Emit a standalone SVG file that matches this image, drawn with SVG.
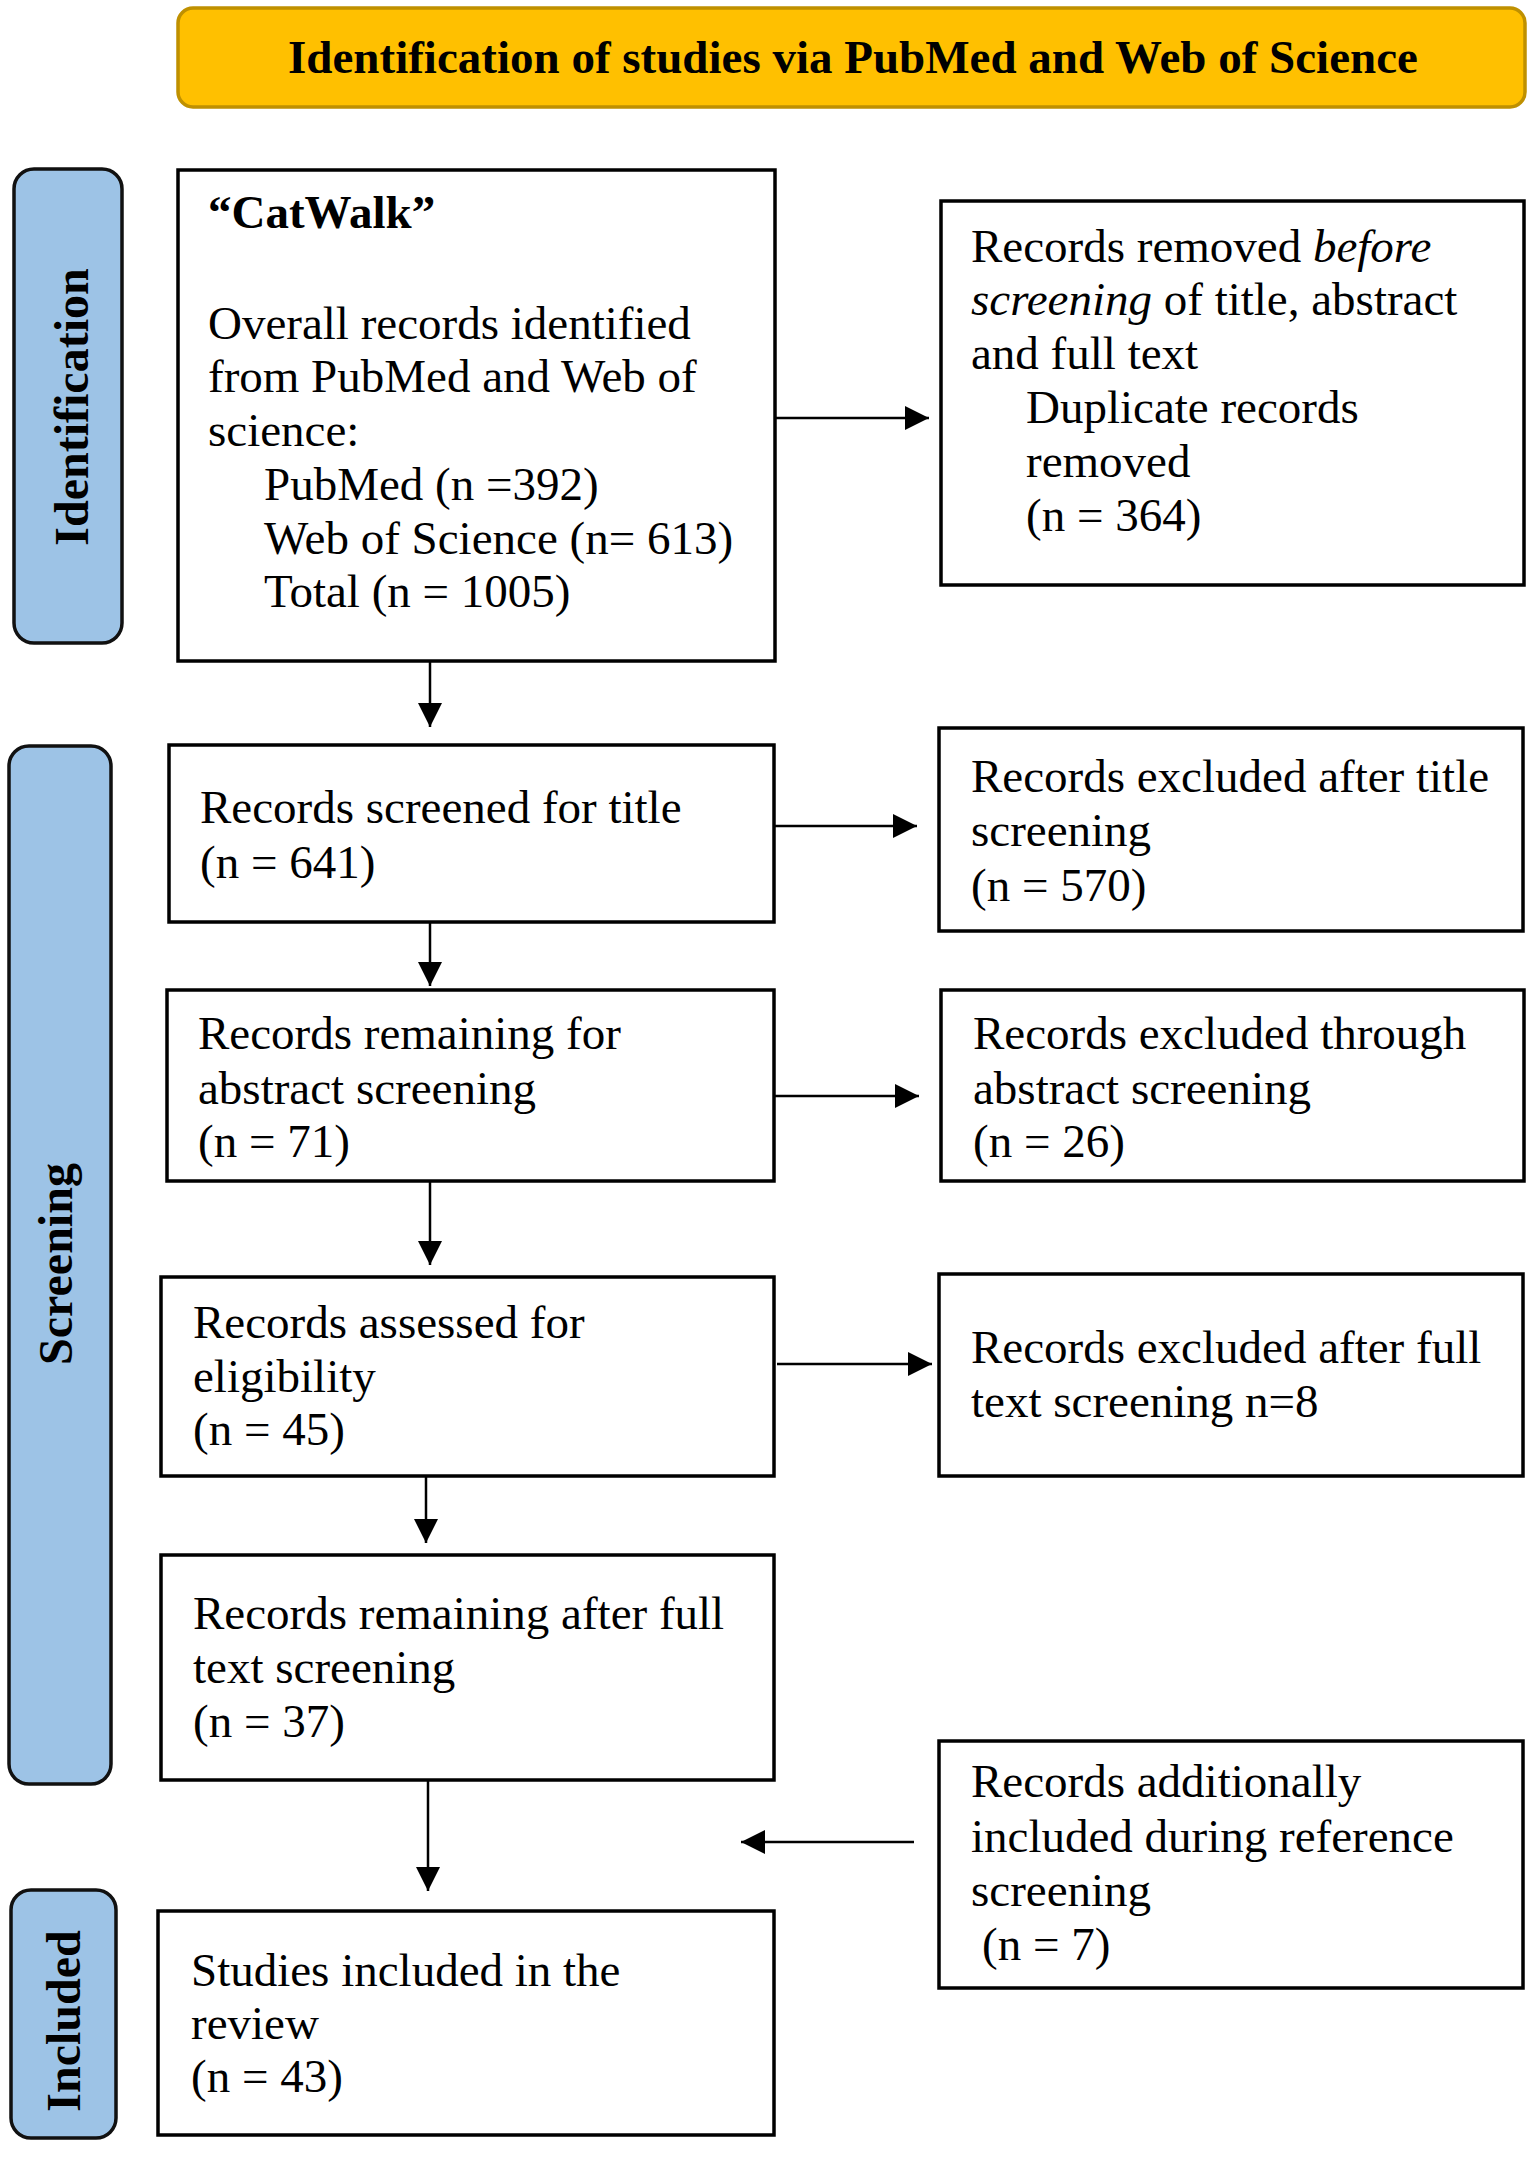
<svg xmlns="http://www.w3.org/2000/svg" width="1535" height="2159" viewBox="0 0 1535 2159">
<style>
.box{fill:#ffffff;stroke:#000000;stroke-width:3.5}
.bar{fill:#9DC3E6;stroke:#111111;stroke-width:3.5}
.t{font-family:"Liberation Serif","Times New Roman",serif;font-size:47px;fill:#000000}
.b{font-weight:bold}
.lbl{font-family:"Liberation Serif","Times New Roman",serif;font-size:48px;font-weight:bold;fill:#000000;text-anchor:middle}
.c{stroke:#000000;stroke-width:2.5;fill:none;marker-end:url(#ah)}
</style>
<defs>
<marker id="ah" markerUnits="userSpaceOnUse" markerWidth="24" markerHeight="24" viewBox="0 0 23 23" refX="23" refY="11.5" orient="auto">
<path d="M0,0 L23,11.5 L0,23 Z" fill="#000000"/>
</marker>
</defs>
<rect width="1535" height="2159" fill="#ffffff"/>

<g id="header">
<rect x="178" y="8" width="1347" height="99" rx="15" fill="#FFC000" stroke="#BF9000" stroke-width="3.5"/>
<text class="t b" x="853" y="73" text-anchor="middle">Identification of studies via PubMed and Web of Science</text>
</g>

<g id="phase-identification">
<rect class="bar" x="14" y="169" width="108" height="474" rx="20"/>
<text class="lbl" transform="translate(88,407) rotate(-90)">Identification</text>
</g>
<g id="phase-screening">
<rect class="bar" x="9" y="746" width="102" height="1038" rx="20"/>
<text class="lbl" transform="translate(72,1264) rotate(-90)">Screening</text>
</g>
<g id="phase-included">
<rect class="bar" x="11" y="1890" width="105" height="248" rx="20"/>
<text class="lbl" transform="translate(80,2021) rotate(-90)">Included</text>
</g>

<g id="connectors">
<line class="c" x1="775" y1="418" x2="929" y2="418"/>
<line class="c" x1="430" y1="661" x2="430" y2="727"/>
<line class="c" x1="774" y1="826" x2="917" y2="826"/>
<line class="c" x1="430" y1="922" x2="430" y2="986"/>
<line class="c" x1="774" y1="1096" x2="919" y2="1096"/>
<line class="c" x1="430" y1="1181" x2="430" y2="1265"/>
<line class="c" x1="777" y1="1364" x2="932" y2="1364"/>
<line class="c" x1="426" y1="1476" x2="426" y2="1543"/>
<line class="c" x1="428" y1="1780" x2="428" y2="1891"/>
<line class="c" x1="914" y1="1842" x2="741" y2="1842"/>
</g>

<g id="records-identified">
<rect class="box" x="178" y="170" width="597" height="491"/>
<text class="t b" x="208" y="228">“CatWalk”</text>
<text class="t" x="208" y="339">Overall records identified</text>
<text class="t" x="208" y="392">from PubMed and Web of</text>
<text class="t" x="208" y="446">science:</text>
<text class="t" x="264" y="500">PubMed (n =392)</text>
<text class="t" x="264" y="554">Web of Science (n= 613)</text>
<text class="t" x="264" y="607">Total (n = 1005)</text>
</g>

<g id="records-removed">
<rect class="box" x="941" y="201" width="583" height="384"/>
<text class="t" x="971" y="262">Records removed <tspan font-style="italic">before</tspan></text>
<text class="t" x="971" y="315"><tspan font-style="italic">screening</tspan> of title, abstract</text>
<text class="t" x="971" y="369">and full text</text>
<text class="t" x="1026" y="423">Duplicate records</text>
<text class="t" x="1026" y="477">removed</text>
<text class="t" x="1026" y="531">(n = 364)</text>
</g>

<g id="records-screened">
<rect class="box" x="169" y="745" width="605" height="177"/>
<text class="t" x="200" y="823">Records screened for title</text>
<text class="t" x="200" y="878">(n = 641)</text>
</g>

<g id="excluded-title">
<rect class="box" x="939" y="728" width="584" height="203"/>
<text class="t" x="971" y="792">Records excluded after title</text>
<text class="t" x="971" y="846">screening</text>
<text class="t" x="971" y="901">(n = 570)</text>
</g>

<g id="remaining-abstract">
<rect class="box" x="167" y="990" width="607" height="191"/>
<text class="t" x="198" y="1049">Records remaining for</text>
<text class="t" x="198" y="1104">abstract screening</text>
<text class="t" x="198" y="1157">(n = 71)</text>
</g>

<g id="excluded-abstract">
<rect class="box" x="941" y="990" width="583" height="191"/>
<text class="t" x="973" y="1049">Records excluded through</text>
<text class="t" x="973" y="1104">abstract screening</text>
<text class="t" x="973" y="1157">(n = 26)</text>
</g>

<g id="assessed-eligibility">
<rect class="box" x="161" y="1277" width="613" height="199"/>
<text class="t" x="193" y="1338">Records assessed for</text>
<text class="t" x="193" y="1392">eligibility</text>
<text class="t" x="193" y="1445">(n = 45)</text>
</g>

<g id="excluded-fulltext">
<rect class="box" x="939" y="1274" width="584" height="202"/>
<text class="t" x="971" y="1363">Records excluded after full</text>
<text class="t" x="971" y="1417">text screening n=8</text>
</g>

<g id="remaining-fulltext">
<rect class="box" x="161" y="1555" width="613" height="225"/>
<text class="t" x="193" y="1629">Records remaining after full</text>
<text class="t" x="193" y="1683">text screening</text>
<text class="t" x="193" y="1737">(n = 37)</text>
</g>

<g id="additional-records">
<rect class="box" x="939" y="1741" width="584" height="247"/>
<text class="t" x="971" y="1797">Records additionally</text>
<text class="t" x="971" y="1852">included during reference</text>
<text class="t" x="971" y="1906">screening</text>
<text class="t" x="982" y="1960">(n = 7)</text>
</g>

<g id="studies-included">
<rect class="box" x="158" y="1911" width="616" height="224"/>
<text class="t" x="191" y="1986">Studies included in the</text>
<text class="t" x="191" y="2039">review</text>
<text class="t" x="191" y="2092">(n = 43)</text>
</g>
</svg>
